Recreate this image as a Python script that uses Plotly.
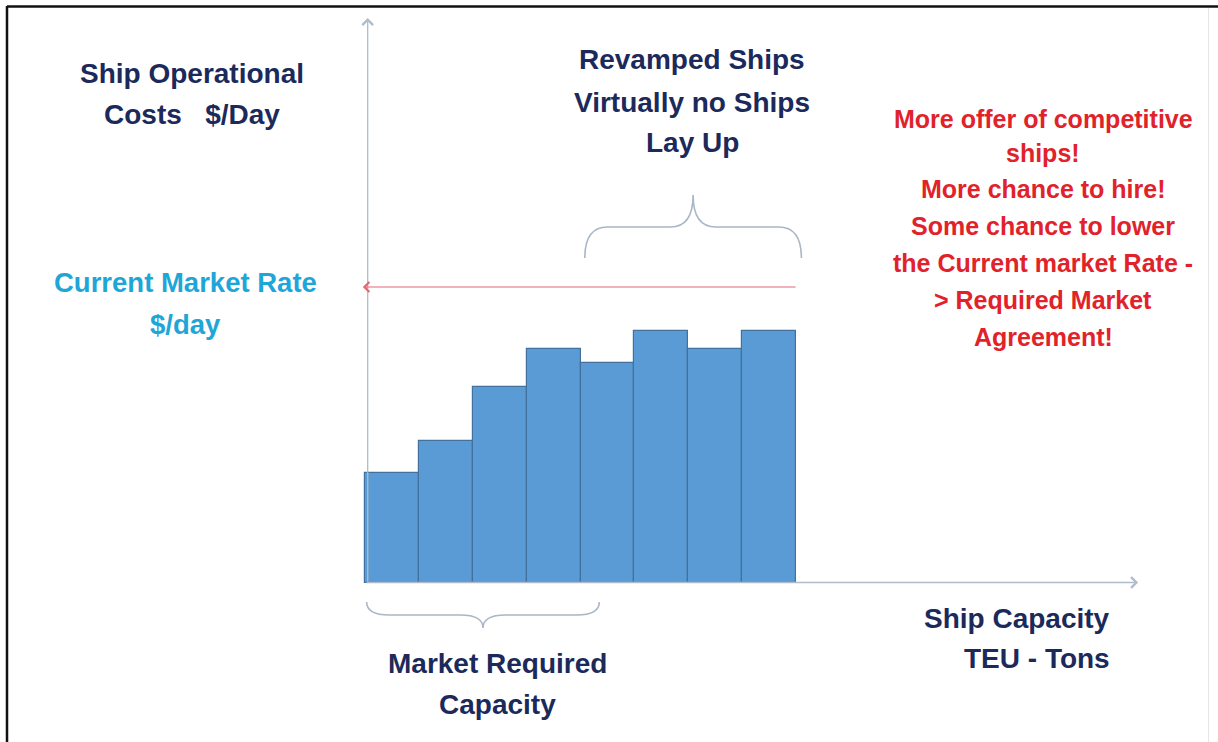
import plotly.graph_objects as go

# ---------------- data ----------------
ships = ["S1", "S2", "S3", "S4", "S5", "S6", "S7", "S8"]
op_cost = [11.0, 14.2, 19.6, 23.4, 22.0, 25.2, 23.4, 25.2]   # ship operational cost ($/day, relative)
market_rate = 29.6                                           # current market rate level

W, H = 1218, 742
FONT = "Liberation Sans, Arial, sans-serif"
NAVY = "#1b2a5a"
CYAN = "#1ea6d8"
RED = "#e1222b"
AXIS = "#aebccb"

# axis ranges chosen so the plot fills the whole canvas
X_RANGE = [-7.275, 15.333]
Y_RANGE = [-15.9, 58.3]

fig = go.Figure()
fig.add_trace(go.Bar(
    x=ships, y=op_cost,
    marker=dict(color="#5b9bd5", line=dict(color="#41719c", width=1.2)),
    width=1.0, hoverinfo="skip",
))

def px(x):
    return x / W

def py(y):
    return 1 - y / H

annotations = []

# axes as arrows (data coords)
def arrow(x_head, y_head, x_tail, y_tail, color, width=1.3, size=1.6):
    annotations.append(dict(
        x=x_head, y=y_head, ax=x_tail, ay=y_tail, xref="x", yref="y",
        axref="x", ayref="y", text="", showarrow=True, arrowhead=4,
        arrowsize=size, arrowwidth=width, arrowcolor=color, standoff=0,
    ))

arrow(-0.45, 56.5, -0.45, 0, AXIS)            # y axis
arrow(13.85, 0.05, -0.5, 0.05, AXIS)          # x axis
arrow(-0.54, market_rate, 7.52, market_rate, "#e36775", width=1.2)  # market-rate line

# text blocks (one annotation per line)
def text_block(lines, x, ys, size, color, anchor="center"):
    for line, y in zip(lines, ys):
        annotations.append(dict(
            x=px(x), y=py(y), xref="paper", yref="paper", text=line,
            showarrow=False, xanchor=anchor, yanchor="middle",
            font=dict(family=FONT, size=size, color=color, weight="bold"),
        ))

text_block(["Ship Operational", "Costs   $/Day"], 192, [74, 115], 28, NAVY)
text_block(["Current Market Rate", "$/day"], 185, [282, 325], 27.5, CYAN)
text_block(["Revamped Ships", "Virtually no Ships", "Lay Up"], 692, [60, 102, 143], 28, NAVY)
text_block(["More offer of competitive", "ships!", "More chance to hire!",
            "Some chance to lower", "the Current market Rate -",
            "> Required Market", "Agreement!"],
           1043, [119, 153, 189, 226, 263, 300, 337], 25, RED)
text_block(["Ship Capacity", "TEU - Tons"], 1112, [618, 658], 28, NAVY, anchor="right")
text_block(["Market Required", "Capacity"], 497, [663, 704], 28, NAVY)

# curly braces (data coords)
def brace(x0, x1, y_end, y_mid, y_tip, d=0.42):
    xm = (x0 + x1) / 2
    return (f"M{x0},{y_end} Q{x0},{y_mid} {x0+d},{y_mid} L{xm-d},{y_mid} "
            f"Q{xm},{y_mid} {xm},{y_tip} Q{xm},{y_mid} {xm+d},{y_mid} "
            f"L{x1-d},{y_mid} Q{x1},{y_mid} {x1},{y_end}")

shapes = [
    dict(type="path", path=brace(3.58, 7.6, 32.5, 35.6, 38.8), xref="x", yref="y",
         line=dict(color="#a9b7c7", width=1.6)),
    dict(type="path", path=brace(-0.47, 3.85, -1.9, -3.2, -4.5), xref="x", yref="y",
         line=dict(color="#a9b7c7", width=1.6)),
    # picture frame
    dict(type="line", xref="paper", yref="paper", x0=px(7), x1=1, y0=py(6.5), y1=py(6.5),
         line=dict(color="#111111", width=2.5)),
    dict(type="line", xref="paper", yref="paper", x0=px(7), x1=px(7), y0=py(6), y1=0,
         line=dict(color="#111111", width=2.5)),
    dict(type="line", xref="paper", yref="paper", x0=px(1208.5), x1=px(1208.5), y0=py(8), y1=0,
         line=dict(color="#e6e6e6", width=1)),
]

fig.update_layout(
    width=W, height=H, margin=dict(l=0, r=0, t=0, b=0),
    paper_bgcolor="white", plot_bgcolor="white",
    showlegend=False, bargap=0,
    xaxis=dict(range=X_RANGE, visible=False, type="category", fixedrange=True),
    yaxis=dict(range=Y_RANGE, visible=False, fixedrange=True),
    annotations=annotations, shapes=shapes,
)

fig.write_html("out.html")
